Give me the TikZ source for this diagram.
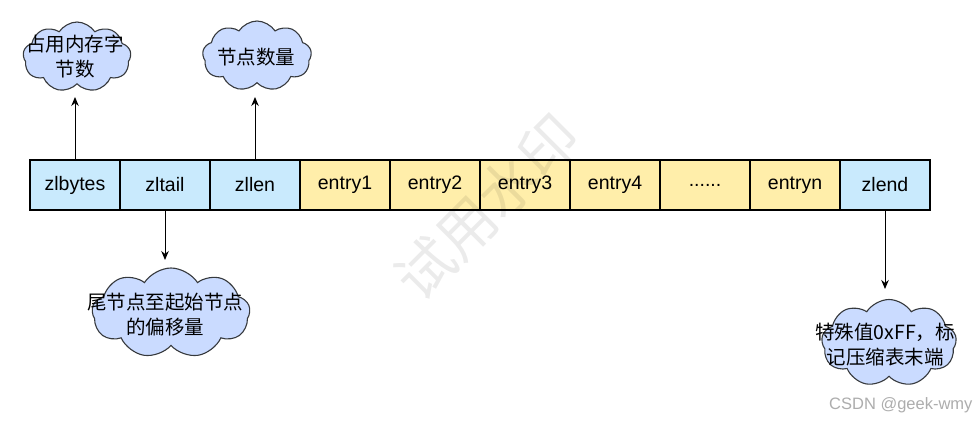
\documentclass[tikz,border=0pt]{standalone}
\usepackage{fontspec}
\setmainfont{Liberation Sans}
\newfontfamily\cjk{Noto Sans CJK SC}
\usetikzlibrary{shapes.symbols,arrows.meta}
\definecolor{boxblue}{HTML}{C9EAFD}
\definecolor{boxyellow}{HTML}{FFEEAA}
\definecolor{cloudfill}{HTML}{CADBFF}
\definecolor{cloudline}{HTML}{36393D}
\tikzset{
  cell/.style={draw=black, line width=1.2pt, minimum width=90pt, minimum height=50pt, inner sep=0pt, font=\fontsize{19.5}{24}\selectfont},
  hdr/.style={cell, fill=boxblue},
  ent/.style={cell, fill=boxyellow},
  bubble/.style={cloud, cloud puffs=9, cloud puff arc=115, cloud ignores aspect, draw=cloudline, line width=1.1pt, fill=cloudfill, inner sep=0pt},
  bubbletext/.style={align=center, font=\cjk\fontsize{19.5}{25}\selectfont, inner sep=0pt},
  arr/.style={-{Stealth[length=9pt,width=7.5pt]}, line width=1pt, black},
}
\begin{document}
\begin{tikzpicture}[x=1pt,y=-1pt]
\useasboundingbox (0,0) rectangle (979,423);
\fill[white] (0,0) rectangle (979,423);
% row of cells
\node[hdr] (zlbytes) at (75,185) {zlbytes};
\node[hdr] (zltail) at (165,185) {zltail};
\node[hdr] (zllen) at (255,185) {zllen};
\node[ent] (e1) at (345,185) {entry1};
\node[ent] (e2) at (435,185) {entry2};
\node[ent] (e3) at (525,185) {entry3};
\node[ent] (e4) at (615,185) {entry4};
\node[ent] (edots) at (705,185) {......};
\node[ent] (en) at (795,185) {entryn};
\node[hdr] (zlend) at (885,185) {zlend};
% clouds
\node[bubble, minimum width=108pt, minimum height=70pt] (c1) at (77,57) {};
\node[bubbletext] (t1) at (75,56.5) {占用内存字\\节数};
\node[bubble, minimum width=109pt, minimum height=70pt] (c2) at (257,56) {};
\node[bubbletext] (t2) at (256,57) {节点数量};
\node[bubble, minimum width=158pt, minimum height=90pt] (c3) at (171,313) {};
\node[bubbletext] (t3) at (165,314.5) {尾节点至起始节点\\的偏移量};
\node[bubble, minimum width=135pt, minimum height=87pt] (c4) at (889,343) {};
\node[bubbletext] (t4) at (885,344.5) {特殊值0xFF，标\\记压缩表末端};
% connectors
\coordinate (a1) at (75,97);
\coordinate (a2) at (255,97);
\coordinate (a3) at (165,260);
\coordinate (a4) at (885,289);
\draw[arr] (zlbytes.north) -- (a1);
\draw[arr] (zllen.north) -- (a2);
\draw[arr] (zltail.south) -- (a3);
\draw[arr] (zlend.south) -- (a4);
% watermarks
\node[rotate=45, font=\cjk\fontsize{58}{58}\selectfont, text=black, opacity=0.08] (wm) at (487,207) {试用水印};
\node[anchor=east, font=\fontsize{16.5}{20}\selectfont, text=black!32] (csdn) at (976,405) {CSDN @geek-wmy};
\end{tikzpicture}
\end{document}
